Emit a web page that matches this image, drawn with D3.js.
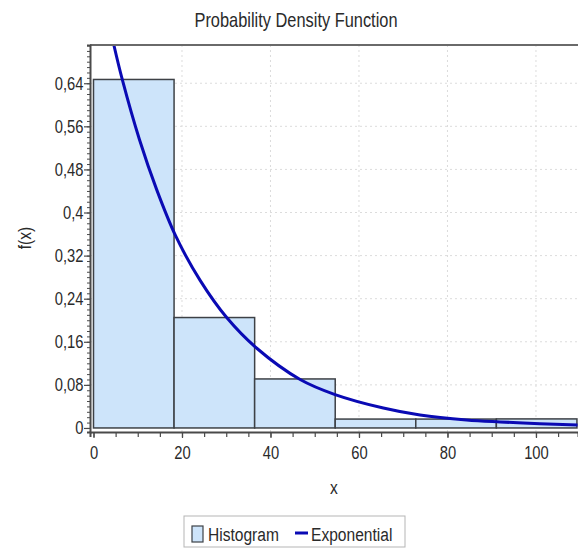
<!DOCTYPE html>
<html>
<head>
<meta charset="utf-8">
<script src="https://cdn.jsdelivr.net/npm/d3@7"></script>
<style>
  html, body { margin: 0; padding: 0; background: #fff; }
  svg { display: block; }
  text { font-family: "Liberation Sans", Arial, sans-serif; fill: #2a2a2a; }
</style>
</head>
<body>
<svg id="chart" width="578" height="550"></svg>
<script>
// ---------- data ----------
const binEdges = [0, 18.21, 36.42, 54.63, 72.84, 91.05, 109.26];
const binHeights = [0.647, 0.205, 0.091, 0.0165, 0.0165, 0.0168];

const curveX = [4.6, 6.5, 10.4, 14.3, 18.6, 24.1, 30.1, 36.9, 46.7, 54.6, 65.5, 73.8, 84.3, 91.9, 100.9, 109.4];
const curveY = [0.711, 0.647, 0.535, 0.442, 0.356, 0.274, 0.205, 0.148, 0.090, 0.062, 0.037, 0.024, 0.0148, 0.0112, 0.0080, 0.0055];

const xTicks = [0, 20, 40, 60, 80, 100];
const xTickLabels = ["0", "20", "40", "60", "80", "100"];
const yTicks = [0, 0.08, 0.16, 0.24, 0.32, 0.4, 0.48, 0.56, 0.64];
const yTickLabels = ["0", "0,08", "0,16", "0,24", "0,32", "0,4", "0,48", "0,56", "0,64"];

const titleText = "Probability Density Function";
const xLabel = "x";
const yLabel = "f(x)";
const legendNames = ["Histogram", "Exponential"];

// ---------- layout ----------
const svg = d3.select("#chart");
const L = 90, R = 578, T = 45, B = 432;
const SX = 0.82; // horizontal condensing of text

const x = d3.scaleLinear().domain([-0.79, 109.5]).range([L, R]);
const y = d3.scaleLinear().domain([-0.0075, 0.711]).range([B, T]);

const barFill = "#cde4fa";
const barStroke = "#3d4146";
const lineColor = "#0a0ab4";
const axisColor = "#4a4a4a";

svg.append("defs").append("clipPath").attr("id", "plotclip")
  .append("rect").attr("x", L).attr("y", T).attr("width", R - L).attr("height", B - T);

// grid
const grid = svg.append("g");
grid.selectAll("line.gx").data(xTicks.filter(d => d > 0)).join("line")
  .attr("x1", d => x(d)).attr("x2", d => x(d)).attr("y1", T).attr("y2", B)
  .attr("stroke", "#dcdcdc").attr("stroke-width", 1).attr("stroke-dasharray", "2,3");
grid.selectAll("line.gy").data(yTicks.filter(d => d > 0)).join("line")
  .attr("y1", d => y(d)).attr("y2", d => y(d)).attr("x1", L).attr("x2", R)
  .attr("stroke", "#dcdcdc").attr("stroke-width", 1).attr("stroke-dasharray", "2,3");

// bars
const bins = binHeights.map((h, i) => ({ x0: binEdges[i], x1: binEdges[i + 1], h }));
svg.append("g").attr("clip-path", "url(#plotclip)")
  .selectAll("rect").data(bins).join("rect")
  .attr("x", d => x(d.x0)).attr("y", d => y(d.h))
  .attr("width", d => x(d.x1) - x(d.x0)).attr("height", d => y(0) - y(d.h))
  .attr("fill", barFill).attr("stroke", barStroke).attr("stroke-width", 1.5);

// curve
const pts = curveX.map((v, i) => [v, curveY[i]]);
svg.append("path").attr("clip-path", "url(#plotclip)")
  .datum(pts)
  .attr("d", d3.line().x(d => x(d[0])).y(d => y(d[1])).curve(d3.curveCatmullRom.alpha(0.5)))
  .attr("fill", "none").attr("stroke", lineColor).attr("stroke-width", 3);

// frame top
svg.append("line").attr("x1", L).attr("x2", R).attr("y1", T).attr("y2", T)
  .attr("stroke", "#6a6a6a").attr("stroke-width", 2);

// x axis
const xAxis = svg.append("g").attr("transform", `translate(0,${B})`);
xAxis.call(d3.axisBottom(x).tickValues(d3.range(0, 110, 5)).tickSize(5).tickFormat(""));
xAxis.select(".domain").attr("stroke", axisColor).attr("stroke-width", 2);
xAxis.selectAll(".tick line").attr("stroke", axisColor).attr("stroke-width", 1.2);
const xLab = svg.append("g").attr("transform", `translate(0,${B})`)
  .call(d3.axisBottom(x).tickValues(xTicks).tickSize(6).tickPadding(8).tickFormat((d, i) => xTickLabels[i]));
xLab.select(".domain").remove();
xLab.selectAll(".tick line").attr("stroke", axisColor).attr("stroke-width", 1.2);
xLab.selectAll(".tick text").attr("font-size", 18).attr("fill", "#2a2a2a")
  .attr("transform", `scale(${SX},1)`)
  .style("font-family", '"Liberation Sans", Arial, sans-serif');

// y axis
const yAxis = svg.append("g").attr("transform", `translate(${L},0)`);
yAxis.call(d3.axisLeft(y).tickValues(d3.range(0, 0.715, 0.01)).tickSize(3).tickFormat(""));
yAxis.select(".domain").attr("stroke", axisColor).attr("stroke-width", 2);
yAxis.selectAll(".tick line").attr("stroke", axisColor).attr("stroke-width", 1);
const yLab = svg.append("g").attr("transform", `translate(${L},0)`)
  .call(d3.axisLeft(y).tickValues(yTicks).tickSize(6).tickPadding(2).tickFormat((d, i) => yTickLabels[i]));
yLab.select(".domain").remove();
yLab.selectAll(".tick line").attr("stroke", axisColor).attr("stroke-width", 1.2);
yLab.selectAll(".tick text").attr("font-size", 18).attr("fill", "#2a2a2a")
  .attr("transform", `scale(${SX},1)`)
  .style("font-family", '"Liberation Sans", Arial, sans-serif');

// helper for condensed text at a position
function ctext(px, py, size, str, anchor, rot) {
  const g = svg.append("g").attr("transform", `translate(${px},${py})` + (rot ? ` rotate(${rot})` : "") + ` scale(${SX},1)`);
  return g.append("text").attr("x", 0).attr("y", 0).attr("text-anchor", anchor || "start")
    .attr("font-size", size).text(str);
}

// title & labels
ctext(296, 27, 20, titleText, "middle");
ctext(334, 494, 19, xLabel, "middle");
ctext(31, 238, 19, yLabel, "middle", -90);

// legend
const lg = svg.append("g");
lg.append("rect").attr("x", 184).attr("y", 516).attr("width", 221).attr("height", 31)
  .attr("fill", "#fff").attr("stroke", "#b5b5b5").attr("stroke-width", 1);
lg.append("rect").attr("x", 192).attr("y", 526).attr("width", 11).attr("height", 16)
  .attr("fill", barFill).attr("stroke", barStroke).attr("stroke-width", 1.2);
ctext(208, 541, 19, legendNames[0], "start");
lg.append("line").attr("x1", 295).attr("x2", 308).attr("y1", 533).attr("y2", 533)
  .attr("stroke", lineColor).attr("stroke-width", 3);
ctext(311, 541, 19, legendNames[1], "start");
</script>
</body>
</html>
